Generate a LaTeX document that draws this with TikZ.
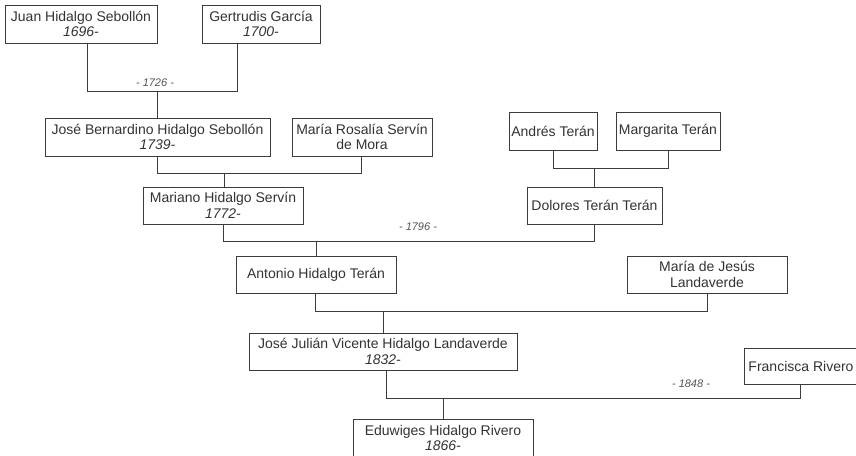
\documentclass[tikz,border=0pt]{standalone}
\usepackage{fontspec}
\setmainfont{Liberation Sans}
\definecolor{ink}{HTML}{333333}
\definecolor{linec}{HTML}{3c3c3c}
\definecolor{yearc}{HTML}{555555}
\begin{document}
\begin{tikzpicture}[x=1pt,y=-1pt,
  person/.style={draw=linec, line width=0.9pt, inner sep=0pt, align=center, text=ink,
                 font=\fontsize{14}{15.5}\selectfont},
  link/.style={draw=linec, line width=0.9pt},
  year/.style={font=\fontsize{11}{13}\selectfont\itshape, text=yearc, inner sep=0pt}]
\clip (0,0) rectangle (856,455);
\fill[white] (0,0) rectangle (856,455);

% persons
\node[person, minimum width=152pt, minimum height=38pt] (juan) at (81,24) {Juan Hidalgo Sebollón\\\textit{1696-}};
\node[person, minimum width=118pt, minimum height=38pt] (gert) at (261,24) {Gertrudis García\\\textit{1700-}};
\node[person, minimum width=225pt, minimum height=38pt] (joseb) at (157.5,137) {José Bernardino Hidalgo Sebollón\\\textit{1739-}};
\node[person, minimum width=140pt, minimum height=38pt] (mariar) at (362,137) {María Rosalía Servín\\de Mora};
\node[person, minimum width=160pt, minimum height=37pt] (mariano) at (223,205.5) {Mariano Hidalgo Servín\\\textit{1772-}};
\node[person, minimum width=88pt, minimum height=38pt] (andres) at (553,131) {Andrés Terán};
\node[person, minimum width=104pt, minimum height=38pt] (margarita) at (668,131) {Margarita Terán};
\node[person, minimum width=135pt, minimum height=37pt] (dolores) at (594.5,205.5) {Dolores Terán Terán};
\node[person, minimum width=160pt, minimum height=37pt] (antonio) at (316,274.5) {Antonio Hidalgo Terán};
\node[person, minimum width=160pt, minimum height=37pt] (mariaj) at (707,274.5) {María de Jesús\\Landaverde};
\node[person, minimum width=268pt, minimum height=37pt] (josej) at (383,351.5) {José Julián Vicente Hidalgo Landaverde\\\textit{1832-}};
\node[person, minimum width=114pt, minimum height=36pt] (francisca) at (801,366) {Francisca Rivero};
\node[person, minimum width=180pt, minimum height=38pt] (eduwiges) at (443,438) {Eduwiges Hidalgo Rivero\\\textit{1866-}};

% marriage bars
\coordinate (c1l) at (87,91);  \coordinate (c1r) at (237,91);  \coordinate (c1c) at (157,91);
\coordinate (c2l) at (157,173); \coordinate (c2r) at (361,173); \coordinate (c2c) at (224,173);
\coordinate (c3l) at (553,168); \coordinate (c3r) at (668,168); \coordinate (c3c) at (594,168);
\coordinate (c4l) at (223,241); \coordinate (c4r) at (594,241); \coordinate (c4c) at (316,241);
\coordinate (c5l) at (315,311); \coordinate (c5r) at (707,311); \coordinate (c5c) at (383,311);
\coordinate (c6l) at (386,398); \coordinate (c6r) at (800,398); \coordinate (c6c) at (443,398);

\draw[link] (c1l |- juan.south) -- (c1l) -- (c1r) -- (c1r |- gert.south);
\draw[link] (c1c) -- (c1c |- joseb.north);
\draw[link] (c2l |- joseb.south) -- (c2l) -- (c2r) -- (c2r |- mariar.south);
\draw[link] (c2c) -- (c2c |- mariano.north);
\draw[link] (c3l |- andres.south) -- (c3l) -- (c3r) -- (c3r |- margarita.south);
\draw[link] (c3c) -- (c3c |- dolores.north);
\draw[link] (c4l |- mariano.south) -- (c4l) -- (c4r) -- (c4r |- dolores.south);
\draw[link] (c4c) -- (c4c |- antonio.north);
\draw[link] (c5l |- antonio.south) -- (c5l) -- (c5r) -- (c5r |- mariaj.south);
\draw[link] (c5c) -- (c5c |- josej.north);
\draw[link] (c6l |- josej.south) -- (c6l) -- (c6r) -- (c6r |- francisca.south);
\draw[link] (c6c) -- (c6c |- eduwiges.north);

% marriage years
\node[year] (y1) at (155,83) {- 1726 -};
\node[year] (y4) at (418,227) {- 1796 -};
\node[year] (y6) at (691,384) {- 1848 -};
\end{tikzpicture}
\end{document}
